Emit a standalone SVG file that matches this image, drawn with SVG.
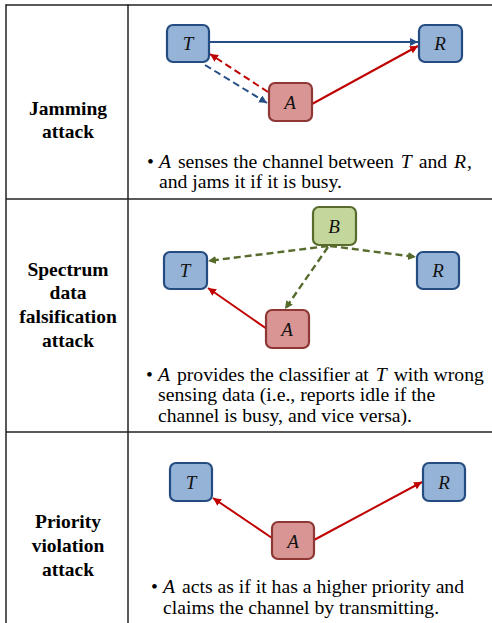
<svg xmlns="http://www.w3.org/2000/svg" width="492" height="623" viewBox="0 0 492 623">
<style>
.grid{stroke:#222;stroke-width:1.5;fill:none}
text{font-family:'Liberation Serif','Times New Roman',Times,serif}
.lbl{font-weight:bold;font-size:19.5px;fill:#000;text-anchor:middle}
.txt{font-size:19.7px;fill:#000}
.it{font-style:italic}
.nb{fill:#95B3D7;stroke:#244C80;stroke-width:2.2}
.nr{fill:#D99594;stroke:#8E3735;stroke-width:2.2}
.ng{fill:#C3D69B;stroke:#566B2C;stroke-width:2.2}
.nl{font-style:italic;font-size:19px;fill:#111;text-anchor:middle}
.cb{stroke:#254E86;stroke-width:2;fill:none}
.cr{stroke:#C00000;stroke-width:2;fill:none}
.cg{stroke:#566B2C;stroke-width:2.4;fill:none;stroke-dasharray:7 4}
.dash{stroke-dasharray:7 4}
</style>
<defs>
<marker id="ab" markerUnits="userSpaceOnUse" markerWidth="10" markerHeight="10" refX="8" refY="4" orient="auto"><path d="M0,0 L8,4 L0,8 z" fill="#254E86"/></marker>
<marker id="ar" markerUnits="userSpaceOnUse" markerWidth="10" markerHeight="10" refX="8" refY="4" orient="auto"><path d="M0,0 L8,4 L0,8 z" fill="#C00000"/></marker>
<marker id="ag" markerUnits="userSpaceOnUse" markerWidth="10" markerHeight="10" refX="8" refY="4" orient="auto"><path d="M0,0 L8,4 L0,8 z" fill="#566B2C"/></marker>
</defs>
<rect width="492" height="623" fill="#fff"/>
<g id="table">
<line class="grid" x1="6" y1="5" x2="492" y2="5"/>
<line class="grid" x1="6" y1="199" x2="492" y2="199"/>
<line class="grid" x1="6" y1="432" x2="492" y2="432"/>
<line class="grid" x1="6" y1="4.3" x2="6" y2="623"/>
<line class="grid" x1="128" y1="4.3" x2="128" y2="623"/>
</g>
<g id="labels">
<text class="lbl" x="68" y="115">Jamming</text>
<text class="lbl" x="68" y="138">attack</text>
<text class="lbl" x="68" y="276">Spectrum</text>
<text class="lbl" x="68" y="299">data</text>
<text class="lbl" x="68" y="323">falsification</text>
<text class="lbl" x="68" y="347">attack</text>
<text class="lbl" x="68" y="528">Priority</text>
<text class="lbl" x="68" y="552">violation</text>
<text class="lbl" x="68" y="576">attack</text>
</g>
<g id="connectors">
<line class="cb" x1="209" y1="42" x2="418" y2="42" marker-end="url(#ab)"/>
<line class="cr dash" x1="268" y1="92" x2="210" y2="54" marker-end="url(#ar)"/>
<line class="cb dash" x1="205" y1="65" x2="267" y2="103" marker-end="url(#ab)"/>
<line class="cr" x1="312" y1="104" x2="418" y2="46" marker-end="url(#ar)"/>
<line class="cg" x1="328" y1="246" x2="208" y2="261" marker-end="url(#ag)"/>
<line class="cg" x1="330" y1="246" x2="416" y2="257" marker-end="url(#ag)"/>
<line class="cg" x1="328" y1="247" x2="285" y2="309" marker-end="url(#ag)"/>
<line class="cr" x1="267" y1="329" x2="208" y2="288" marker-end="url(#ar)"/>
<line class="cr" x1="272" y1="538" x2="213" y2="498" marker-end="url(#ar)"/>
<line class="cr" x1="314" y1="540" x2="422" y2="482" marker-end="url(#ar)"/>
</g>
<g id="j-T"><rect class="nb" x="167" y="25" width="42" height="37" rx="6"/><text class="nl" x="188" y="50">T</text></g>
<g id="j-R"><rect class="nb" x="419" y="25" width="43" height="37" rx="6"/><text class="nl" x="440" y="50">R</text></g>
<g id="j-A"><rect class="nr" x="269" y="83" width="43" height="38" rx="6"/><text class="nl" x="290" y="109">A</text></g>
<g id="s-B"><rect class="ng" x="313" y="207" width="43" height="38" rx="6"/><text class="nl" x="334" y="233">B</text></g>
<g id="s-T"><rect class="nb" x="164" y="252" width="43" height="37" rx="6"/><text class="nl" x="185" y="277">T</text></g>
<g id="s-R"><rect class="nb" x="417" y="252" width="42" height="37" rx="6"/><text class="nl" x="438" y="277">R</text></g>
<g id="s-A"><rect class="nr" x="266" y="310" width="43" height="38" rx="6"/><text class="nl" x="287" y="336">A</text></g>
<g id="p-T"><rect class="nb" x="170" y="463" width="42" height="38" rx="6"/><text class="nl" x="191" y="489">T</text></g>
<g id="p-R"><rect class="nb" x="423" y="463" width="42" height="38" rx="6"/><text class="nl" x="444" y="489">R</text></g>
<g id="p-A"><rect class="nr" x="272" y="522" width="42" height="37" rx="6"/><text class="nl" x="293" y="548">A</text></g>
<g id="notes">
<text class="txt" x="147" y="168" font-size="12">•</text>
<text class="txt" x="159" y="168"><tspan class="it">A</tspan><tspan dx="2"> senses the channel between </tspan><tspan class="it" dx="2">T</tspan><tspan dx="2"> and </tspan><tspan class="it" dx="2">R</tspan><tspan dx="1">,</tspan></text>
<text class="txt" x="159" y="188">and jams it if it is busy.</text>
<text class="txt" x="146" y="381" font-size="12">•</text>
<text class="txt" x="158" y="381"><tspan class="it">A</tspan><tspan dx="2"> provides the classifier at </tspan><tspan class="it" dx="2">T</tspan><tspan dx="2"> with wrong</tspan></text>
<text class="txt" x="158" y="401">sensing data (i.e., reports idle if the</text>
<text class="txt" x="158" y="422">channel is busy, and vice versa).</text>
<text class="txt" x="151" y="593" font-size="12">•</text>
<text class="txt" x="163" y="593"><tspan class="it">A</tspan><tspan dx="2"> acts as if it has a higher priority and</tspan></text>
<text class="txt" x="163" y="614">claims the channel by transmitting.</text>
</g>
</svg>
